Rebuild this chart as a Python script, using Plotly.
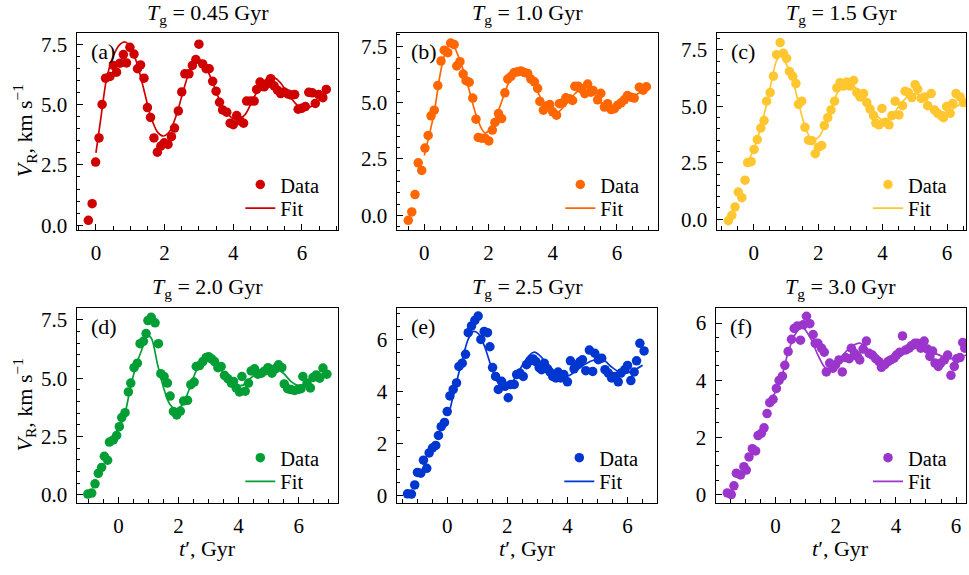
import plotly.graph_objects as go

W, H = 969, 575

# ---------------- data ----------------
t_a = [-0.22,-0.11,-0.01,0.09,0.18,0.28,0.41,0.51,0.60,0.70,0.80,0.89,0.99,1.11,1.21,1.30,1.40,1.50,1.59,1.69,1.79,1.89,1.99,2.10,2.20,2.29,2.40,2.50,2.59,2.71,2.81,2.91,3.00,3.11,3.21,3.30,3.40,3.50,3.60,3.69,3.81,3.91,4.00,4.10,4.20,4.30,4.39,4.51,4.61,4.68,4.78,4.90,5.00,5.09,5.19,5.29,5.38,5.48,5.60,5.69,5.79,5.89,5.99,6.10,6.20,6.30,6.39,6.49,6.61,6.71]
v_a = [0.20,0.89,2.62,3.62,5.01,6.10,6.17,6.63,6.35,6.72,7.08,6.73,7.38,7.10,6.49,6.65,6.10,4.88,4.47,3.62,3.03,3.28,3.42,3.35,3.67,4.03,4.74,5.53,6.28,6.28,6.63,6.87,7.51,6.69,6.49,6.49,5.97,5.56,5.10,4.78,4.69,4.23,4.17,4.55,4.33,4.23,5.15,5.15,5.15,5.63,5.94,5.74,5.87,6.08,5.78,5.60,5.46,5.53,5.44,5.40,5.42,4.81,4.85,4.92,5.51,5.49,5.05,5.42,5.29,5.63]
fit_t_a = [0.0,0.15,0.3,0.5,0.7,0.85,1.0,1.2,1.4,1.6,1.8,1.96,2.15,2.35,2.55,2.75,2.9,3.1,3.35,3.6,3.85,4.1,4.35,4.6,4.85,5.1,5.35,5.6,5.85,6.1,6.35,6.68]
fit_v_a = [3.0,4.5,6.0,7.0,7.5,7.6,7.4,6.7,5.6,4.5,3.85,3.7,3.9,4.6,5.6,6.5,6.9,6.8,6.1,5.2,4.6,4.37,4.6,5.3,5.9,6.17,5.95,5.45,5.0,4.85,5.0,5.45]

t_b = [-0.50,-0.39,-0.29,-0.19,-0.08,0.02,0.12,0.21,0.31,0.42,0.52,0.62,0.73,0.82,0.93,1.01,1.11,1.21,1.30,1.40,1.51,1.61,1.68,1.79,1.89,2.01,2.12,2.20,2.31,2.41,2.51,2.60,2.70,2.80,2.91,3.01,3.12,3.22,3.32,3.43,3.53,3.60,3.71,3.81,3.91,4.00,4.12,4.21,4.31,4.41,4.52,4.62,4.69,4.80,4.90,5.00,5.09,5.19,5.26,5.40,5.50,5.61,5.71,5.82,5.92,6.02,6.13,6.23,6.33,6.44,6.54,6.70,6.82,6.92]
v_b = [-0.22,0.15,0.92,2.33,1.99,2.98,3.54,4.41,4.66,5.75,6.84,7.32,7.21,7.64,7.57,6.62,6.81,6.26,5.97,5.90,5.20,4.26,3.45,3.42,3.42,3.30,3.78,4.12,4.51,4.29,5.43,6.04,6.16,6.33,6.36,6.40,6.33,6.29,6.04,5.92,5.63,5.05,4.66,4.85,4.91,4.59,4.44,4.95,4.99,5.21,5.17,5.09,5.72,5.72,5.60,5.39,5.82,5.46,5.53,5.12,5.41,4.80,4.95,4.69,4.73,4.88,4.99,5.12,5.31,5.24,5.20,5.68,5.55,5.70]
fit_t_b = [0.0,0.3,0.5,0.65,0.85,1.1,1.35,1.6,1.8,1.9,2.1,2.3,2.5,2.7,2.95,3.2,3.45,3.7,3.9,4.1,4.4,4.7,4.95,5.2,5.45,5.75,6.0,6.3,6.6,6.9]
fit_v_b = [2.65,4.5,6.3,7.2,7.65,6.9,5.8,4.5,3.8,3.65,3.9,4.6,5.4,6.1,6.4,6.2,5.7,5.0,4.6,4.5,4.9,5.4,5.7,5.55,5.1,4.75,4.8,5.1,5.35,5.6]

t_c = [-0.79,-0.68,-0.58,-0.48,-0.37,-0.27,-0.19,-0.08,0.01,0.11,0.22,0.32,0.40,0.51,0.61,0.71,0.82,0.92,1.02,1.11,1.21,1.31,1.39,1.49,1.59,1.70,1.80,1.91,2.01,2.11,2.19,2.30,2.40,2.51,2.58,2.68,2.78,2.89,2.99,3.10,3.20,3.30,3.41,3.51,3.61,3.72,3.79,3.89,3.98,4.08,4.20,4.29,4.39,4.51,4.62,4.70,4.80,4.91,5.01,5.09,5.20,5.30,5.40,5.51,5.61,5.71,5.82,5.89,5.99,6.10,6.18,6.28,6.41,6.51]
v_c = [-0.07,0.17,0.54,1.20,0.95,1.73,2.51,2.55,3.09,3.53,4.04,4.37,5.23,5.61,6.34,7.29,7.83,7.36,7.13,6.55,6.33,6.01,5.09,5.23,4.07,3.50,3.48,2.90,3.19,3.27,4.15,4.50,4.84,5.23,5.82,6.05,5.90,6.08,5.90,6.15,5.61,5.42,5.57,5.17,4.88,4.59,4.26,4.18,4.91,4.30,4.18,4.59,5.23,4.62,5.03,5.67,5.61,5.39,5.96,5.76,5.35,5.42,5.03,5.57,4.84,4.69,4.59,4.50,4.99,4.69,5.13,5.57,5.42,5.17]
fit_t_c = [-0.17,0.0,0.2,0.4,0.55,0.7,0.82,1.0,1.2,1.4,1.55,1.75,1.85,2.05,2.25,2.45,2.65,2.85,3.1,3.35,3.6,3.85,4.05,4.3,4.55,4.8,5.0,5.3,5.55,5.8,6.0,6.3,6.6]
fit_v_c = [2.58,3.1,4.0,5.1,6.1,7.0,7.25,6.9,6.2,5.1,4.3,3.6,3.5,3.7,4.3,5.1,5.75,6.0,5.9,5.5,5.0,4.55,4.35,4.6,5.1,5.45,5.55,5.35,5.0,4.75,4.75,5.0,5.3]

t_d = [-1.02,-0.89,-0.78,-0.67,-0.56,-0.47,-0.36,-0.30,-0.17,-0.06,0.03,0.11,0.22,0.33,0.41,0.52,0.63,0.72,0.83,0.92,0.98,1.09,1.22,1.33,1.41,1.52,1.63,1.72,1.83,1.94,2.06,2.17,2.30,2.41,2.52,2.59,2.70,2.81,2.92,3.00,3.11,3.20,3.31,3.42,3.53,3.64,3.76,3.83,3.92,4.03,4.11,4.22,4.33,4.42,4.53,4.64,4.76,4.87,4.98,5.11,5.22,5.33,5.44,5.52,5.63,5.74,5.86,5.97,6.08,6.14,6.28,6.39,6.48,6.59,6.70,6.81,6.94]
v_d = [0.03,0.07,0.47,0.92,1.17,1.65,1.48,2.26,2.35,2.54,2.92,3.31,3.52,4.41,4.79,5.45,5.64,6.48,6.58,6.91,7.47,7.61,7.37,6.48,5.19,5.07,4.79,4.23,3.57,3.42,3.59,4.02,4.05,4.72,4.83,5.50,5.54,5.71,5.88,5.92,5.82,5.71,5.45,5.50,5.12,4.98,4.79,4.86,4.58,4.41,5.07,4.44,4.79,5.31,5.40,5.17,5.21,5.31,5.45,5.21,5.40,5.57,5.45,4.75,4.55,4.51,4.47,4.51,4.55,5.07,4.79,4.58,5.03,5.14,5.00,5.43,5.17]
fit_t_d = [-0.2,0.0,0.2,0.4,0.6,0.8,0.95,1.1,1.3,1.5,1.7,1.93,2.15,2.35,2.55,2.75,2.95,3.2,3.45,3.7,3.95,4.15,4.4,4.7,5.0,5.3,5.5,5.75,5.95,6.2,6.5,6.9]
fit_v_d = [2.5,2.85,3.4,4.6,5.6,6.3,6.85,6.7,5.6,4.6,3.9,3.65,3.9,4.5,5.2,5.7,5.85,5.7,5.3,4.95,4.7,4.7,5.0,5.3,5.35,5.4,5.2,4.85,4.7,4.75,5.0,5.25]

t_e = [-1.32,-1.19,-1.08,-0.99,-0.88,-0.79,-0.68,-0.60,-0.49,-0.38,-0.29,-0.20,-0.09,0.00,0.09,0.20,0.31,0.39,0.50,0.61,0.70,0.81,0.92,1.03,1.12,1.23,1.34,1.42,1.51,1.61,1.70,1.81,1.92,2.03,2.12,2.23,2.31,2.42,2.53,2.64,2.75,2.86,2.95,3.06,3.14,3.23,3.34,3.42,3.51,3.62,3.69,3.78,3.88,4.00,4.10,4.22,4.33,4.42,4.50,4.61,4.73,4.84,4.91,5.03,5.14,5.25,5.36,5.47,5.58,5.69,5.78,5.91,6.00,6.11,6.22,6.30,6.41,6.55]
v_e = [0.06,0.05,0.40,0.88,0.85,1.35,1.04,1.63,1.82,1.92,2.30,2.64,2.80,3.22,3.82,4.07,4.32,4.95,5.08,5.42,6.25,6.51,6.72,6.89,5.99,6.30,6.25,5.71,4.91,4.57,4.07,4.38,4.19,3.75,4.26,4.26,4.64,4.70,4.57,5.02,5.17,5.24,5.14,4.91,4.83,5.08,4.86,4.74,4.57,4.51,4.74,4.51,4.64,4.36,5.17,4.86,5.02,5.14,5.21,4.79,5.58,4.76,5.46,5.21,5.27,4.83,4.70,4.51,4.57,4.36,4.70,4.83,4.99,4.41,4.74,5.17,5.84,5.55]
fit_t_e = [0.05,0.3,0.5,0.7,0.88,1.05,1.25,1.45,1.65,1.85,2.0,2.25,2.5,2.75,2.9,3.1,3.35,3.6,3.85,4.05,4.3,4.6,4.9,5.2,5.45,5.7,5.95,6.2,6.5]
fit_v_e = [3.1,4.3,5.2,6.0,6.3,6.2,5.7,5.0,4.4,4.15,4.15,4.5,5.0,5.4,5.5,5.35,5.0,4.7,4.6,4.6,4.8,5.05,5.2,5.2,4.95,4.75,4.7,4.8,5.0]

t_f = [-1.60,-1.47,-1.38,-1.30,-1.16,-1.05,-0.97,-0.88,-0.77,-0.66,-0.58,-0.47,-0.38,-0.28,-0.19,-0.08,0.03,0.12,0.23,0.31,0.42,0.53,0.62,0.73,0.83,0.92,1.03,1.14,1.25,1.32,1.41,1.53,1.62,1.69,1.80,1.91,2.00,2.11,2.22,2.33,2.45,2.52,2.63,2.72,2.80,2.91,3.02,3.11,3.22,3.33,3.44,3.52,3.63,3.74,3.83,3.94,4.02,4.13,4.22,4.33,4.44,4.52,4.63,4.72,4.83,4.94,5.05,5.13,5.22,5.30,5.41,5.49,5.61,5.72,5.83,5.94,6.02,6.13,6.22,6.29]
v_f = [0.05,-0.01,0.30,0.74,0.68,0.97,0.85,1.31,1.60,1.52,2.06,2.14,2.33,2.83,3.21,3.33,3.71,3.99,4.14,4.52,5.00,5.43,5.81,5.90,5.40,5.94,6.24,5.98,5.60,5.29,5.29,5.12,4.98,4.29,4.60,4.42,4.54,4.71,4.29,4.79,4.75,5.12,4.94,4.83,4.71,5.09,5.37,4.94,4.88,4.75,4.65,4.45,4.54,4.65,4.71,4.77,4.88,4.98,5.55,5.06,5.12,5.21,5.29,5.29,5.12,5.37,5.09,4.83,5.02,4.60,4.48,4.60,4.71,4.88,4.17,4.48,4.75,4.79,5.32,5.12]
fit_t_f = [-0.2,0.0,0.2,0.4,0.6,0.8,0.92,1.0,1.2,1.4,1.6,1.75,2.0,2.3,2.55,2.8,3.05,3.3,3.55,3.8,4.1,4.4,4.7,4.95,5.2,5.5,5.8,6.1,6.4]
fit_v_f = [3.2,3.6,4.1,4.9,5.5,5.8,5.85,5.75,5.4,4.9,4.5,4.35,4.5,4.95,5.2,5.3,5.1,4.8,4.6,4.6,4.8,5.0,5.15,5.15,5.0,4.85,4.75,4.8,4.9]

titles = ["0.45", "1.0", "1.5", "2.0", "2.5", "3.0"]
panel_tags = ["(a)", "(b)", "(c)", "(d)", "(e)", "(f)"]
colors = ["#d00000", "#ff6600", "#ffc630", "#009e34", "#0036d0", "#9b35cc"]

series = [(t_a, v_a, fit_t_a, fit_v_a), (t_b, v_b, fit_t_b, fit_v_b),
          (t_c, v_c, fit_t_c, fit_v_c), (t_d, v_d, fit_t_d, fit_v_d),
          (t_e, v_e, fit_t_e, fit_v_e), (t_f, v_f, fit_t_f, fit_v_f)]

# ---------------- layout geometry (pixels) ----------------
xdom_px = [(76.7, 338.3), (396.7, 658.3), (716.7, 966.0),
           (76.7, 338.3), (396.7, 657.3), (715.6, 966.0)]
ydom_px = [(33.3, 233.0)] * 3 + [(312.3, 510.0)] * 3
xranges = [[-0.56, 7.06], [-0.86, 7.29], [-1.15, 6.59],
           [-1.39, 7.32], [-1.68, 6.99], [-1.99, 6.33]]
yranges = [[-0.19, 7.98], [-0.64, 8.09], [-0.47, 8.26],
           [-0.35, 8.01], [-0.29, 7.20], [-0.30, 6.53]]

FONT = "Liberation Serif"
FS_TICK = 21
FS_LAB = 22
FS_LEG = 20.5

def px_x(p):
    return p / W

def px_y(p):
    return 1 - p / H

fig = go.Figure()
layout = dict(width=W, height=H, autosize=False, showlegend=True,
              margin=dict(l=0, r=0, t=0, b=0),
              paper_bgcolor="white", plot_bgcolor="white",
              font=dict(family=FONT, size=FS_TICK, color="black"),
              annotations=[])

for i, (tx, vy, ftx, fvy) in enumerate(series):
    n = i + 1
    xa = "x" if n == 1 else f"x{n}"
    ya = "y" if n == 1 else f"y{n}"
    lg_d = "legend" if n == 1 else f"legend{2 * n - 1}"
    lg_f = f"legend{2 * n}"
    col = colors[i]
    fig.add_trace(go.Scatter(x=tx, y=vy, mode="markers", name="Data", showlegend=True,
                             marker=dict(color=col, size=9.5, line=dict(width=0)),
                             xaxis=xa, yaxis=ya, legend=lg_d))
    fig.add_trace(go.Scatter(x=ftx, y=fvy, mode="lines", name="Fit", showlegend=True,
                             line=dict(color=col, width=1.7, shape="spline", smoothing=0.8),
                             xaxis=xa, yaxis=ya, legend=lg_f))

    x0, x1 = xdom_px[i]
    y0, y1 = ydom_px[i]
    common = dict(showline=True, mirror=True, linecolor="black", linewidth=1.3,
                  ticks="inside", ticklen=6, tickwidth=1.1, tickcolor="black",
                  showgrid=False, zeroline=False,
                  tickfont=dict(family=FONT, size=FS_TICK, color="black"),
                  ticklabelstandoff=4,
                  minor=dict(ticks="inside", ticklen=3.5, tickwidth=1, tickcolor="black",
                             dtick=0.5, tick0=0, showgrid=False))
    xkey = "xaxis" if n == 1 else f"xaxis{n}"
    ykey = "yaxis" if n == 1 else f"yaxis{n}"
    layout[xkey] = dict(common, domain=[px_x(x0), px_x(x1)], range=xranges[i],
                        anchor=ya, tickmode="array", tickvals=[0, 2, 4, 6],
                        ticktext=["0", "2", "4", "6"])
    if i < 4:
        yt = [0, 2.5, 5, 7.5]
        ytt = ["0.0", "2.5", "5.0", "7.5"]
    else:
        yt = [0, 2, 4, 6]
        ytt = ["0", "2", "4", "6"]
    layout[ykey] = dict(common, domain=[px_y(y1), px_y(y0)], range=yranges[i],
                        anchor=xa, tickmode="array", tickvals=yt, ticktext=ytt)

    # legends (one per entry so row spacing matches)
    leg_common = dict(x=px_x(x1 - 98), xanchor="left", yanchor="top", visible=True,
                      bgcolor="rgba(0,0,0,0)", borderwidth=0,
                      font=dict(family=FONT, size=FS_LEG, color="black"),
                      itemwidth=30, tracegroupgap=0)
    layout[lg_d] = dict(leg_common, y=px_y(y1 - 66))
    layout[lg_f] = dict(leg_common, y=px_y(y1 - 42))

    # title
    cx = (x0 + x1) / 2
    ty = 14 if i < 3 else 292
    layout["annotations"].append(dict(
        text=f"<i>T</i><sub>g</sub> = {titles[i]} Gyr", xref="paper", yref="paper",
        x=px_x(cx), y=px_y(ty), xanchor="center", yanchor="middle", showarrow=False,
        font=dict(family=FONT, size=FS_LAB)))
    # panel tag
    layout["annotations"].append(dict(
        text=panel_tags[i], xref="paper", yref="paper",
        x=px_x(x0 + 12), y=px_y(y0 + 19), xanchor="left", yanchor="middle",
        showarrow=False, font=dict(family=FONT, size=FS_LAB)))
    # y label
    if i in (0, 3):
        layout["annotations"].append(dict(
            text="<i>V</i><sub>R</sub>, km s<sup>−1</sup>", xref="paper", yref="paper",
            x=px_x(24), y=px_y((y0 + y1) / 2), xanchor="center", yanchor="middle",
            textangle=-90, showarrow=False, font=dict(family=FONT, size=FS_LAB)))
    if i >= 3:
        layout["annotations"].append(dict(
            text="<i>t</i>′, Gyr", xref="paper", yref="paper",
            x=px_x(cx), y=px_y(556), xanchor="center", yanchor="middle",
            showarrow=False, font=dict(family=FONT, size=FS_LAB)))

fig.update_layout(**layout)
fig.write_html("out.html")
